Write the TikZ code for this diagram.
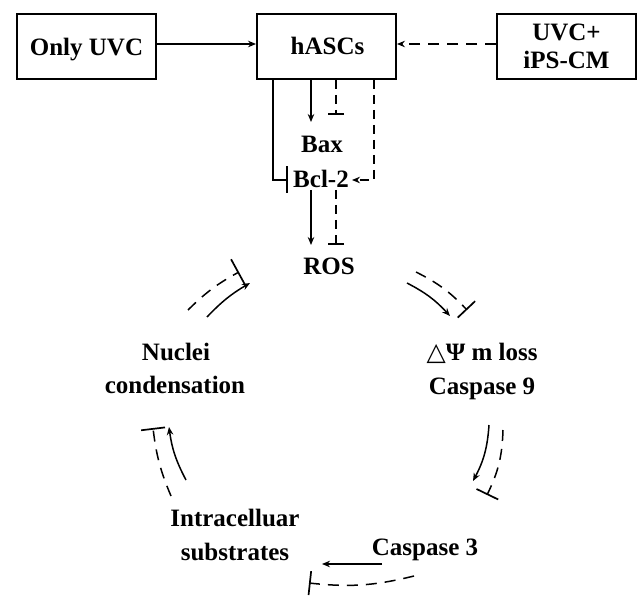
\documentclass[tikz,border=0pt]{standalone}
\usepackage{fontspec}
\setmainfont{Liberation Serif}
\newfontfamily\symfont{DejaVu Sans}
\usetikzlibrary{arrows.meta}
\begin{document}
\begin{tikzpicture}[x=1pt,y=-1pt,
  box/.style={draw, line width=1.9pt, minimum width=139pt, minimum height=65pt, inner sep=0pt},
  lbl/.style={inner sep=0pt, anchor=base, font=\fontsize{25}{28}\selectfont\bfseries},
  ln/.style={line width=1.5pt},
  dsh/.style={line width=1.5pt, dash pattern=on 11pt off 8pt},
  dshs/.style={line width=1.5pt, dash pattern=on 9pt off 6pt},
  arr/.style={-{Stealth[length=8pt,width=6.5pt]}},
  inh/.style={-{Bar[width=#1,line width=1.7pt]}},
  inh/.default=18pt
]
\useasboundingbox (0,0) rectangle (637,596);
% boxes
\node[box] (only) at (86.5,46.5) {};
\node[box] (hasc) at (326.5,46.5) {};
\node[box] (uvc) at (566.5,46.5) {};
\node[lbl] (onlyt) at (86.5,56) {Only UVC};
\node[lbl] (hasct) at (327.5,55) {hASCs};
\node[lbl] (uvct1) at (566.5,40.5) {UVC+};
\node[lbl] (uvct2) at (566.5,68.5) {iPS-CM};
\draw[ln,arr] (only.east |- 0,44) -- (hasc.west |- 0,44);
\draw[dsh,arr] (uvc.west |- 0,44) -- (hasc.east |- 0,44);
% column
\node[lbl] (bax) at (322,153) {Bax};
\node[lbl] (bcl) at (321,188) {Bcl-2};
\node[lbl] (ros) at (329,274) {ROS};
\coordinate (baxa) at (311,122);
\coordinate (baxi) at (336,115);
\coordinate (bcli) at (288,180);
\coordinate (bcla) at (352,180);
\coordinate (bcl1) at (311,190);
\coordinate (bcl2) at (336,190);
\coordinate (rosa) at (311,245);
\coordinate (rosi) at (336,245);
\draw[ln,arr] (hasc.south -| baxa) -- (baxa);
\draw[dshs,inh=16pt] (hasc.south -| baxi) -- (baxi);
\draw[ln,inh=27pt] (hasc.south -| 273,0) |- (bcli);
\draw[dshs,arr] (hasc.south -| 374,0) |- (bcla);
\draw[ln,arr] (bcl1) -- (rosa);
\draw[dshs,inh=16pt] (bcl2) -- (rosi);
% cycle labels
\node[lbl] (psi) at (482,360) {{\symfont\bfseries △}Ψ m loss};
\node[lbl] (c9) at (482,394) {Caspase 9};
\node[lbl] (c3) at (425,555) {Caspase 3};
\node[lbl] (intra) at (235,526) {Intracelluar};
\node[lbl] (subs) at (235,560) {substrates};
\node[lbl] (nuc) at (176,360) {Nuclei};
\node[lbl] (cond) at (175,393) {condensation};
% cycle connectors
\coordinate (a1s) at (207,317); \coordinate (a1e) at (250,283);
\coordinate (d1s) at (188,310); \coordinate (d1e) at (239,272);
\coordinate (a2s) at (407,283); \coordinate (a2e) at (450,316);
\coordinate (d2s) at (416,272); \coordinate (d2e) at (467,310);
\coordinate (a3s) at (489,425); \coordinate (a3e) at (473,481);
\coordinate (d3s) at (503,430); \coordinate (d3e) at (487,495);
\coordinate (a4s) at (382,564); \coordinate (a4e) at (322,564);
\coordinate (d4s) at (414,576); \coordinate (d4e) at (309,583);
\coordinate (a5s) at (186,480); \coordinate (a5e) at (169,427);
\coordinate (d5s) at (171,496); \coordinate (d5e) at (153,428);
\draw[ln,arr] (a1s) to[bend left=8] (a1e);
\draw[dsh,inh=30pt] (d1s) to[bend left=8] (d1e);
\draw[ln,arr] (a2s) to[bend left=10] (a2e);
\draw[dsh,inh=24pt] (d2s) to[bend left=10] (d2e);
\draw[ln,arr] (a3s) to[bend left=12] (a3e);
\draw[dsh,inh=24pt] (d3s) to[bend left=12] (d3e);
\draw[ln,arr] (a4s) -- (a4e);
\draw[dsh,inh=24pt] (d4s) to[bend left=10] (d4e);
\draw[ln,arr] (a5s) to[bend left=10] (a5e);
\draw[dsh,inh=24pt] (d5s) to[bend left=8] (d5e);
\end{tikzpicture}
\end{document}
